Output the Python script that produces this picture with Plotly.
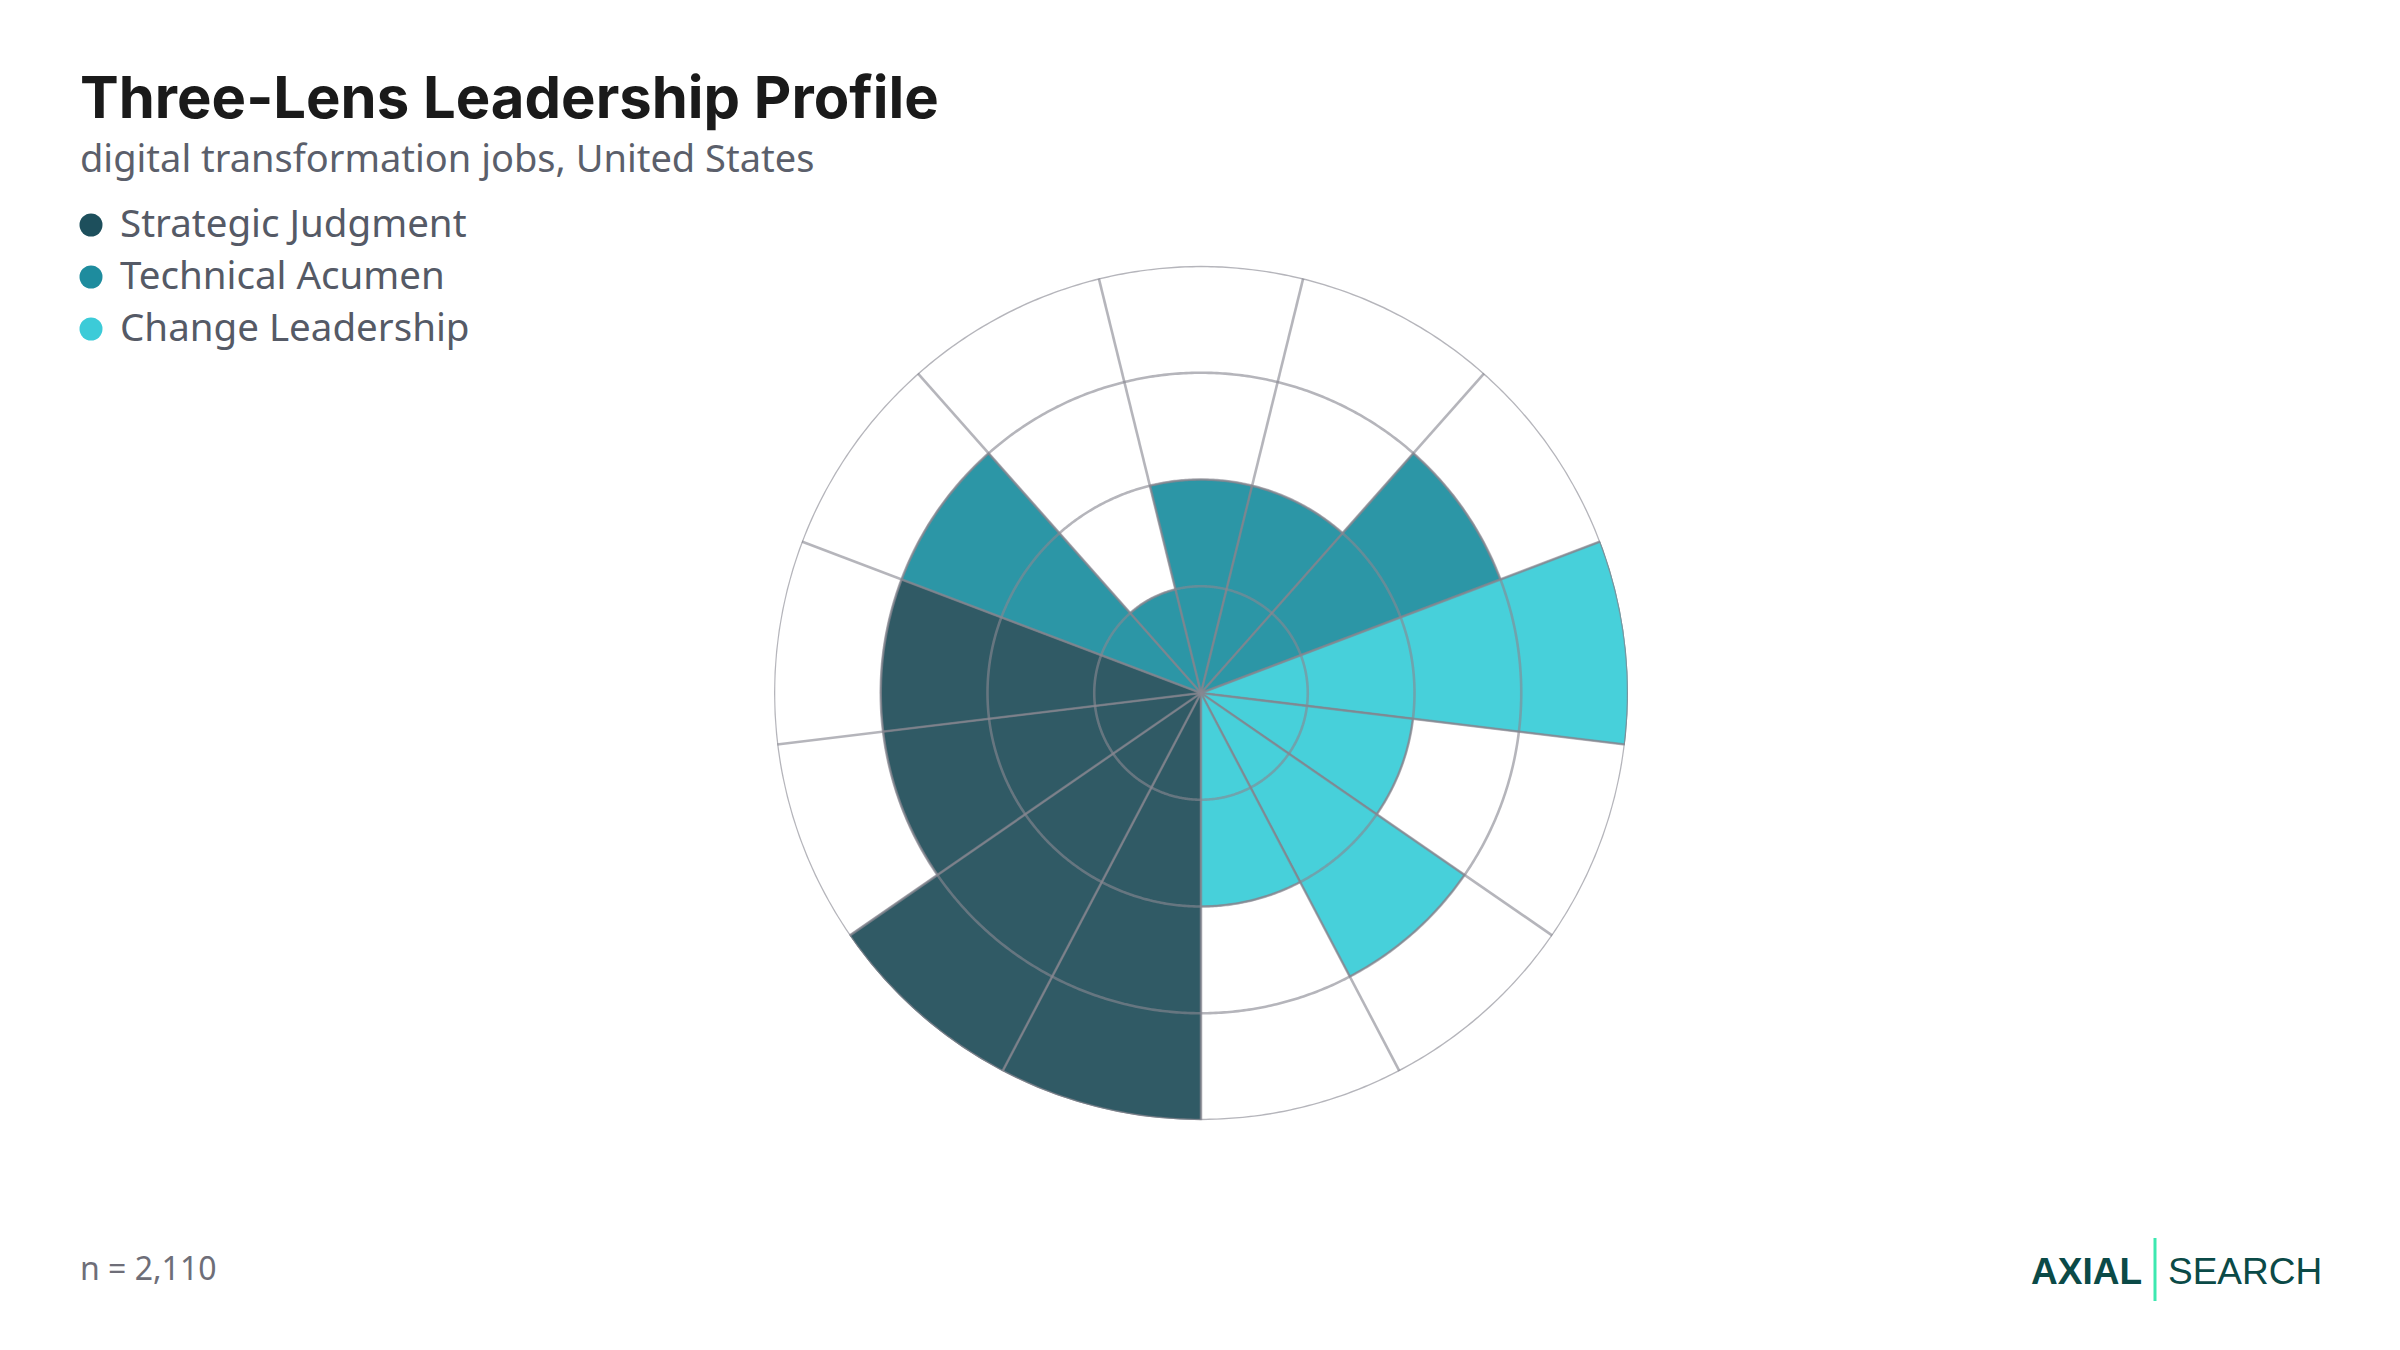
import numpy as np
import plotly.graph_objects as go

# ---------------- data ----------------
series_names = ["Strategic Judgment", "Technical Acumen", "Change Leadership"]

strategic_dims = ["Vision Setting", "Portfolio Prioritization", "Risk Judgment", "Business Acumen"]
strategic_vals = [4, 4, 3, 3]

technical_dims = ["Enterprise Architecture", "Cloud Platforms", "Data Literacy", "AI & Automation", "Cybersecurity"]
technical_vals = [3, 1, 2, 2, 3]

change_dims = ["Stakeholder Alignment", "Communication", "Culture Building", "Adoption Management"]
change_vals = [4, 2, 3, 2]

fill_colors = ["#305a65", "#2c96a6", "#47d0da"]
legend_colors = ["#1d4f5c", "#1e8c9e", "#3ccbd8"]

radial_ticks = [1, 2, 3, 4]
sample_note = "n = 2,110"
title_text = "Three-Lens Leadership Profile"
subtitle_text = "digital transformation jobs, United States"

# ---------------- figure ----------------
W, H = 2400, 1350
groups = [(strategic_dims, strategic_vals), (technical_dims, technical_vals), (change_dims, change_vals)]
n_dims = sum(len(d) for d, _ in groups)
step = 360.0 / n_dims
r_max = max(radial_ticks)

fig = go.Figure()
start = 0
for name, (dims, vals), col in zip(series_names, groups, fill_colors):
    thetas = [(start + i) * step for i in range(len(dims))]
    start += len(dims)
    fig.add_trace(go.Barpolar(
        r=vals, theta=thetas, width=[step] * len(dims), name=name,
        customdata=dims, hovertemplate="%{customdata}: %{r}<extra>" + name + "</extra>",
        marker=dict(color=col, line=dict(color="rgba(120,124,132,0.7)", width=1.5)),
        showlegend=False,
    ))

# grid drawn above the bars (rings at radial ticks, spokes at sector boundaries)
grid_col = "rgba(135,135,145,0.62)"
grid_w = 2.6
ring_theta = np.linspace(0, 360, 721)
for t in radial_ticks:
    fig.add_trace(go.Scatterpolar(r=np.full(ring_theta.size, t), theta=ring_theta, mode="lines",
                                  line=dict(color=grid_col, width=grid_w), hoverinfo="skip",
                                  showlegend=False))
for k in range(n_dims):
    b = (k + 0.5) * step
    fig.add_trace(go.Scatterpolar(r=[0, r_max], theta=[b, b], mode="lines",
                                  line=dict(color=grid_col, width=grid_w), hoverinfo="skip",
                                  showlegend=False))

cx, cy, R = 1193, 685, 427
fig.update_layout(
    width=W, height=H,
    paper_bgcolor="white", plot_bgcolor="white",
    margin=dict(l=0, r=0, t=0, b=0),
    showlegend=False,
    polar=dict(
        domain=dict(x=[(cx - R) / W, (cx + R) / W], y=[1 - (cy + R) / H, 1 - (cy - R) / H]),
        bgcolor="white",
        bargap=0,
        radialaxis=dict(range=[0, r_max], tickvals=radial_ticks, showticklabels=False,
                        ticks="", showline=False, showgrid=False),
        angularaxis=dict(rotation=270 - step / 2, direction="clockwise", tickmode="linear",
                         tick0=step / 2, dtick=step, showticklabels=False, ticks="",
                         showgrid=False, showline=False),
    ),
)

ann = []
ann.append(dict(text="<b>" + title_text + "</b>", x=70 / W, y=1 - 52 / H, xref="paper", yref="paper",
                xanchor="left", yanchor="top", showarrow=False,
                font=dict(family="Inter", size=58, color="#1a1a1a")))
ann.append(dict(text=subtitle_text, x=70 / W, y=1 - 121 / H, xref="paper", yref="paper",
                xanchor="left", yanchor="top", showarrow=False,
                font=dict(family="Noto Sans", size=38, color="#5b5f6b")))

# custom legend
shapes = []
row_y = [217, 269, 321]
for name, col, yy in zip(series_names, legend_colors, row_y):
    d = 23
    shapes.append(dict(type="circle", xref="paper", yref="paper",
                       x0=(83 - d / 2) / W, x1=(83 + d / 2) / W,
                       y0=1 - (yy + d / 2) / H, y1=1 - (yy - d / 2) / H,
                       fillcolor=col, line=dict(width=0)))
    ann.append(dict(text=name, x=110 / W, y=1 - (yy - 3) / H, xref="paper", yref="paper",
                    xanchor="left", yanchor="middle", showarrow=False,
                    font=dict(family="Noto Sans", size=38.5, color="#555a66")))

ann.append(dict(text=sample_note, x=70 / W, y=1 - 1259 / H, xref="paper", yref="paper",
                xanchor="left", yanchor="middle", showarrow=False,
                font=dict(family="Noto Sans", size=32, color="#6e6e78")))

# logo
ann.append(dict(text="<b>AXIAL</b>", x=2136 / W, y=1 - 1263 / H, xref="paper", yref="paper",
                xanchor="right", yanchor="middle", showarrow=False,
                font=dict(family="Liberation Sans", size=37, color="#0b4a47")))
ann.append(dict(text="SEARCH", x=2158 / W, y=1 - 1263 / H, xref="paper", yref="paper",
                xanchor="left", yanchor="middle", showarrow=False,
                font=dict(family="Liberation Sans", size=37, color="#0b4a47")))
shapes.append(dict(type="line", xref="paper", yref="paper", x0=2147 / W, x1=2147 / W,
                   y0=1 - 1293 / H, y1=1 - 1230 / H, line=dict(color="#3de8b0", width=3)))

fig.update_layout(annotations=ann, shapes=shapes)
fig.write_html("out.html")
